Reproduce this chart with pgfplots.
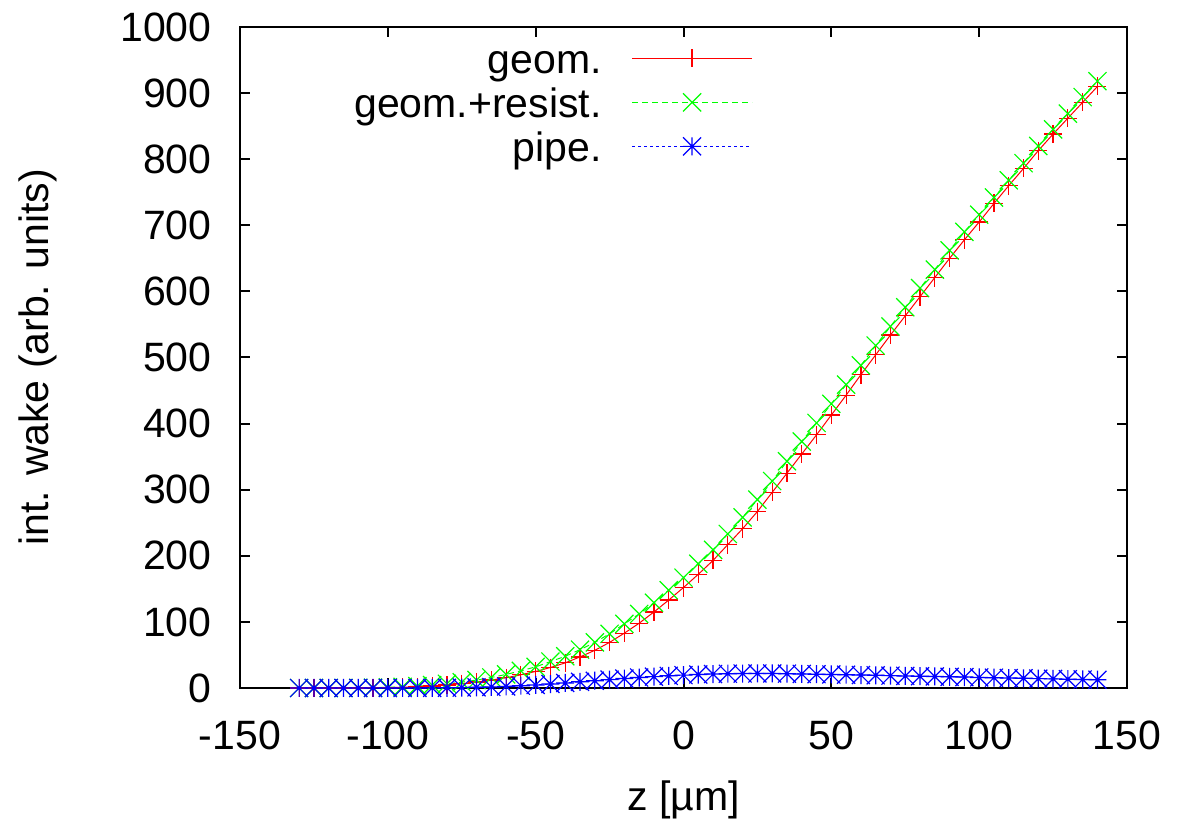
\documentclass[border=0pt]{standalone}
\usepackage{fontspec}
\setmainfont{Liberation Sans}
\usepackage{pgfplots}
\usepackage{pgfplotstable}
\pgfplotsset{compat=1.18}
\pgfdeclareplotmark{gpstar}{%
 \pgfpathmoveto{\pgfqpoint{-\pgfplotmarksize}{0pt}}\pgfpathlineto{\pgfqpoint{\pgfplotmarksize}{0pt}}%
 \pgfpathmoveto{\pgfqpoint{0pt}{-\pgfplotmarksize}}\pgfpathlineto{\pgfqpoint{0pt}{\pgfplotmarksize}}%
 \pgfpathmoveto{\pgfqpoint{-\pgfplotmarksize}{-\pgfplotmarksize}}\pgfpathlineto{\pgfqpoint{\pgfplotmarksize}{\pgfplotmarksize}}%
 \pgfpathmoveto{\pgfqpoint{-\pgfplotmarksize}{\pgfplotmarksize}}\pgfpathlineto{\pgfqpoint{\pgfplotmarksize}{-\pgfplotmarksize}}%
 \pgfusepathqstroke}
\pgfplotstableread{
z r g b
-130 0 0 0
-125 0 0 0
-120 0 0 0
-115 0 0 0
-110 0 0.2 0
-105 0.3 0.5 0
-100 0.6 1 0
-95 1 1.7 0
-90 1.8 2.8 0.1
-85 3 4.3 0.2
-80 4.5 6.3 0.3
-75 6.5 8.8 0.6
-70 9 12 1
-65 12 16 1.6
-60 15.5 20.5 2.4
-55 20 26 3.4
-50 25 32 4.6
-45 31 40 6
-40 38 48 7.6
-35 47 58 9.3
-30 57 69 11
-25 69 82 12.7
-20 83 97 14.3
-15 98 112 15.8
-10 115 129 17.2
-5 133 148 18.4
0 152 167 19.5
5 172 188 20.4
10 193 209 21.1
15 217 233 21.6
20 241 258 21.9
25 267 285 22
30 296 313 22
35 325 343 21.7
40 354 373 21.3
45 383 401 20.9
50 413 430 20.5
55 443 459 20.1
60 474 488 19.6
65 504 518 19.2
70 534 547 18.7
75 563 576 18.3
80 592 605 17.8
85 621 633 17.4
90 650 662 16.9
95 678 690 16.5
100 705 716 16
105 733 742 15.6
110 760 768 15.1
115 786 794 14.7
120 813 820 14.2
125 838 845 13.8
130 862 869 13.3
135 886 894 12.9
140 910 918 12.5
}\wake
\definecolor{gpred}{RGB}{255,0,0}
\definecolor{gpgreen}{RGB}{0,255,0}
\definecolor{gpblue}{RGB}{0,0,255}
\begin{document}
\fontsize{20.5pt}{24pt}\selectfont
\begin{tikzpicture}
\begin{axis}[
  name=ax,
  scale only axis,
  width=443.5pt, height=330.5pt,
  xmin=-150, xmax=150, ymin=0, ymax=1000,
  xtick={-150,-100,...,150},
  ytick={0,100,...,1000},
  axis line style={line width=1pt},
  every tick/.style={black,line width=1pt},
  major tick length=5pt,
  tick align=inside,
  /pgf/number format/assume math mode=true,
  /pgf/number format/set thousands separator={},
  xticklabel style={inner sep=0pt, anchor=north, yshift=-16.25pt},
  yticklabel style={inner sep=0pt, anchor=east, xshift=-14pt},
  xlabel={z [µm]},
  ylabel={int. wake (arb. units)},
  every axis x label/.style={at={(axis description cs:0.5,-0.1694)},anchor=center},
  every axis y label/.style={at={(axis description cs:-0.2277,0.5)},rotate=90,anchor=center},
  legend plot pos=right,
  legend cell align=right,
  legend style={draw=none, fill=none, at={(axis cs:23.5,975.8)}, anchor=north east,
    inner sep=0pt, row sep=7pt, column sep=15pt,
    nodes={inner sep=0pt,text height=15pt,text depth=0pt}},
  legend image code/.code={\draw[mark repeat=2,mark phase=2,#1] plot coordinates {(0pt,0pt) (30pt,0pt) (60pt,0pt)};},
  clip=false,
]
\addplot[gpred, line width=0.5pt, mark=+, mark size=4.5pt, mark options={solid,line width=0.6pt}] table[x=z,y=r] {\wake};
\addlegendentry{geom.}
\addplot[gpgreen, line width=0.5pt, dash pattern=on 3pt off 2pt, mark=x, mark size=6.4pt, mark options={solid,line width=0.6pt}] table[x=z,y=g] {\wake};
\addlegendentry{geom.+resist.}
\addplot[gpblue, line width=0.5pt, dash pattern=on 1.5pt off 1.5pt, mark=gpstar, mark size=4.5pt, mark options={solid,line width=0.6pt}] table[x=z,y=b] {\wake};
\addlegendentry{pipe.}
\end{axis}
\pgfresetboundingbox
\path (ax.south west) ++(-120pt,-67pt) coordinate (bl);
\path (ax.north east) ++(27pt,13.5pt) coordinate (tr);
\path[use as bounding box] (bl) rectangle (tr);
\end{tikzpicture}
\end{document}
